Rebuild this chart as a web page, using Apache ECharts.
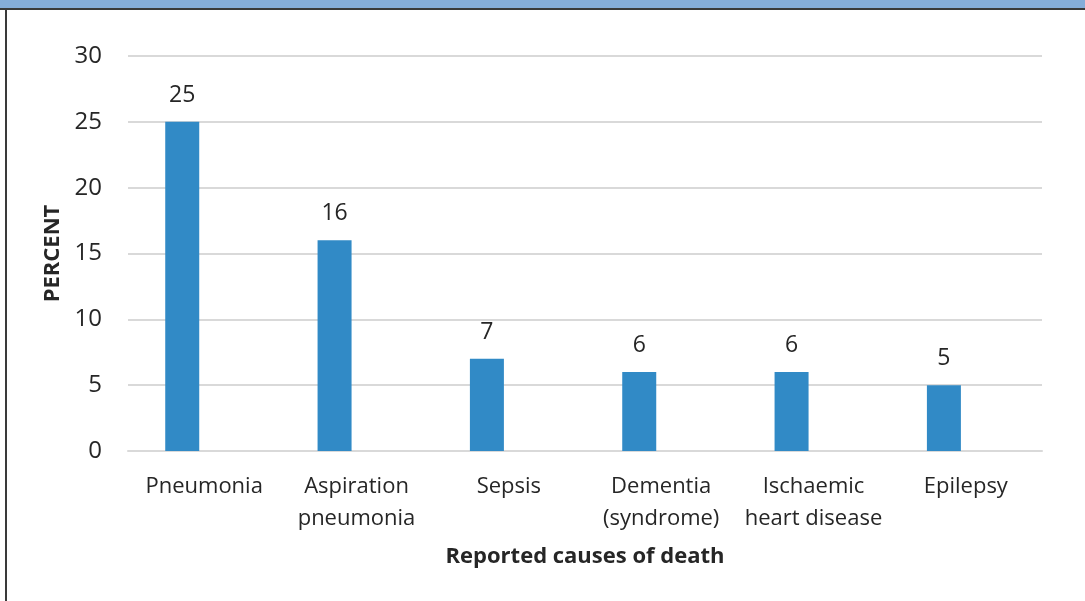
<!DOCTYPE html>
<html>
<head>
<meta charset="utf-8">
<script src="https://cdn.jsdelivr.net/npm/echarts@6/dist/echarts.min.js"></script>
<style>
  html, body { margin: 0; padding: 0; background: #fff; }
  #chart { width: 1085px; height: 601px; }
</style>
</head>
<body>
<div id="chart"></div>
<script>
const categories = ["Pneumonia", "Aspiration\npneumonia", "Sepsis", "Dementia\n(syndrome)", "Ischaemic\nheart disease", "Epilepsy"];
const percentValues = [25, 16, 7, 6, 6, 5];
const yTicks = { min: 0, max: 30, interval: 5 };

const font = "'Open Sans', 'Noto Sans', sans-serif";
const textColor = "#262626";
const chart = echarts.init(document.getElementById("chart"));

chart.setOption({
    animation: false,
    textStyle: { fontFamily: font },
    graphic: [
        { type: "rect", shape: { x: 0, y: 0, width: 1085, height: 8 }, style: { fill: "#85ADD9" } },
        { type: "rect", shape: { x: 0, y: 8, width: 1085, height: 2 }, style: { fill: "#3A3A3A" } },
        { type: "rect", shape: { x: 5, y: 8, width: 2, height: 593 }, style: { fill: "#3A3A3A" } }
    ],
    grid: { left: 128, right: 43, top: 56, bottom: 150 },
    xAxis: {
        type: "category",
        data: categories,
        name: "Reported causes of death",
        nameLocation: "middle",
        nameGap: 95,
        nameMoveOverlap: false,
        nameTextStyle: { fontSize: 22, fontWeight: "bold", color: textColor, fontFamily: font },
        axisLine: { lineStyle: { color: "#D9D9D9", width: 2 } },
        axisTick: { show: false },
        axisLabel: { fontSize: 22, color: textColor, margin: 20, lineHeight: 32, interval: 0, fontFamily: font }
    },
    yAxis: {
        type: "value",
        min: yTicks.min,
        max: yTicks.max,
        interval: yTicks.interval,
        name: "PERCENT",
        nameLocation: "middle",
        nameGap: 64,
        nameMoveOverlap: false,
        nameRotate: 90,
        nameTextStyle: { fontSize: 22, fontWeight: "bold", color: textColor, fontFamily: font },
        axisLine: { show: false },
        axisTick: { show: false },
        axisLabel: { fontSize: 24, color: textColor, margin: 26, fontFamily: font },
        splitLine: { lineStyle: { color: "#D9D9D9", width: 2 } }
    },
    series: [{
        type: "bar",
        data: percentValues,
        barWidth: 34,
        barGap: "29%",
        itemStyle: { color: "#318AC6" },
        label: { show: true, position: "top", distance: 15, fontSize: 23, color: textColor, fontFamily: font }
    }, {
        // empty slot beside each bar, as in the source chart's layout
        type: "bar",
        data: [],
        barWidth: 34
    }]
});
</script>
</body>
</html>
